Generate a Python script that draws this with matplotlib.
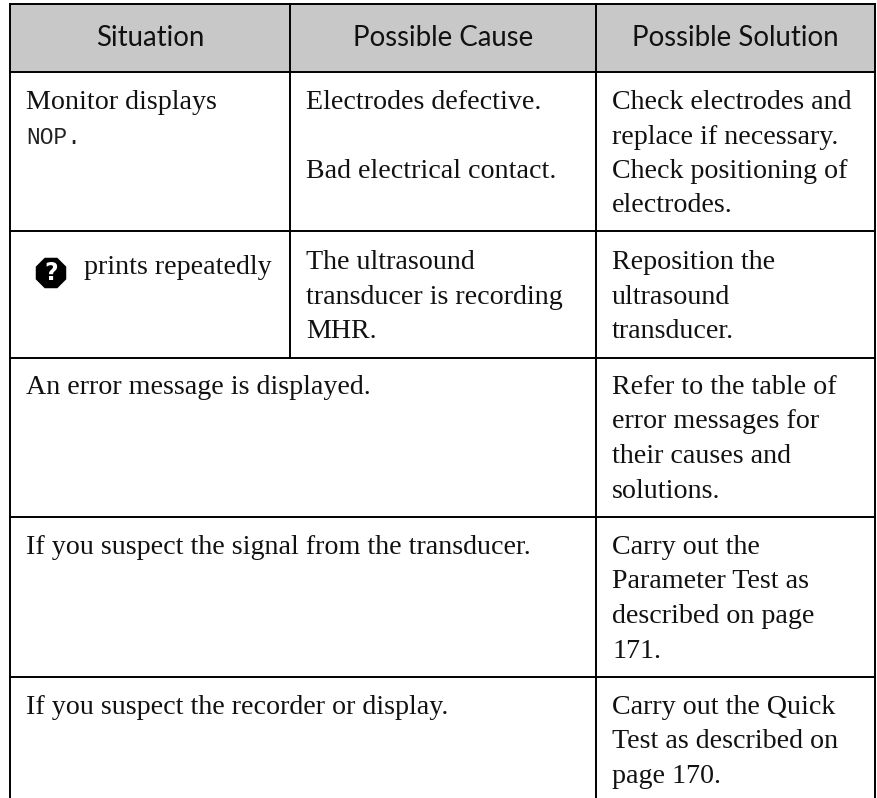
import matplotlib
matplotlib.use('Agg')
import matplotlib.pyplot as plt
from matplotlib.patches import Rectangle, RegularPolygon

headers = ['Situation', 'Possible Cause', 'Possible Solution']
situations = [
    ['Monitor displays'],
    ['prints repeatedly'],
    ['An error message is displayed.'],
    ['If you suspect the signal from the transducer.'],
    ['If you suspect the recorder or display.'],
]
causes = [
    ['Electrodes defective.', '', 'Bad electrical contact.'],
    ['The ultrasound', 'transducer is recording', 'MHR.'],
    [], [], [],
]
solutions = [
    ['Check electrodes and', 'replace if necessary.', 'Check positioning of', 'electrodes.'],
    ['Reposition the', 'ultrasound', 'transducer.'],
    ['Refer to the table of', 'error messages for', 'their causes and', 'solutions.'],
    ['Carry out the', 'Parameter Test as', 'described on page', '171.'],
    ['Carry out the Quick', 'Test as described on', 'page 170.'],
]
mono_text = 'NOP.'

# layout, in pixels of the page
col_x = [10, 290, 596, 875.5]
row_y = [71.5, 231, 357.5, 517, 677]
top = 4
bottom = 798
first_base = [109, 269, 394, 554, 714]
line_h = 34.5
body_size = 20.2
head_size = 19.9
serif = 'Liberation Serif'
sans = 'Lato'
lw = 1.4
ink = '#111111'

fig = plt.figure(figsize=(8.78, 7.98), dpi=100)
ax = fig.add_axes([0, 0, 1, 1])
ax.set_xlim(0, 878)
ax.set_ylim(798, 0)
ax.axis('off')

ax.add_patch(Rectangle((col_x[0], top), col_x[3] - col_x[0], row_y[0] - top, facecolor='#c8c8c8', edgecolor='none'))

# rules
ax.plot([col_x[0], col_x[3]], [top, top], color='black', lw=lw)
for y in row_y:
    ax.plot([col_x[0], col_x[3]], [y, y], color='black', lw=lw)
for x in [col_x[0], col_x[2], col_x[3]]:
    ax.plot([x, x], [top, bottom], color='black', lw=lw)
ax.plot([col_x[1], col_x[1]], [top, row_y[2]], color='black', lw=lw)

# header
for i, h in enumerate(headers):
    ax.text((col_x[i] + col_x[i + 1]) / 2, 46, h, family=sans, fontsize=head_size,
            ha='center', va='baseline', color=ink)

# body
for r in range(5):
    x0 = 26
    base = first_base[r]
    if r == 1:
        x0 = 84
        base = 274
    for n, s in enumerate(situations[r]):
        ax.text(x0, base + n * line_h, s, family=serif, fontsize=body_size,
                va='baseline', color=ink)
    for n, s in enumerate(causes[r]):
        ax.text(306, first_base[r] + n * line_h, s, family=serif, fontsize=body_size,
                va='baseline', color=ink)
    for n, s in enumerate(solutions[r]):
        ax.text(612, first_base[r] + n * line_h, s, family=serif, fontsize=body_size,
                va='baseline', color=ink)

ax.text(26, first_base[0] + line_h, mono_text, family='Liberation Mono', fontsize=16.5,
        va='baseline', color='#222222')

# help icon
ax.add_patch(RegularPolygon((51, 273), 8, radius=16.5, orientation=0.3927, facecolor='black', edgecolor='none'))
ax.text(51, 273.5, '?', family='DejaVu Sans', fontsize=17, fontweight='bold', color='white',
        ha='center', va='center')

plt.savefig('out.png', dpi=100)
